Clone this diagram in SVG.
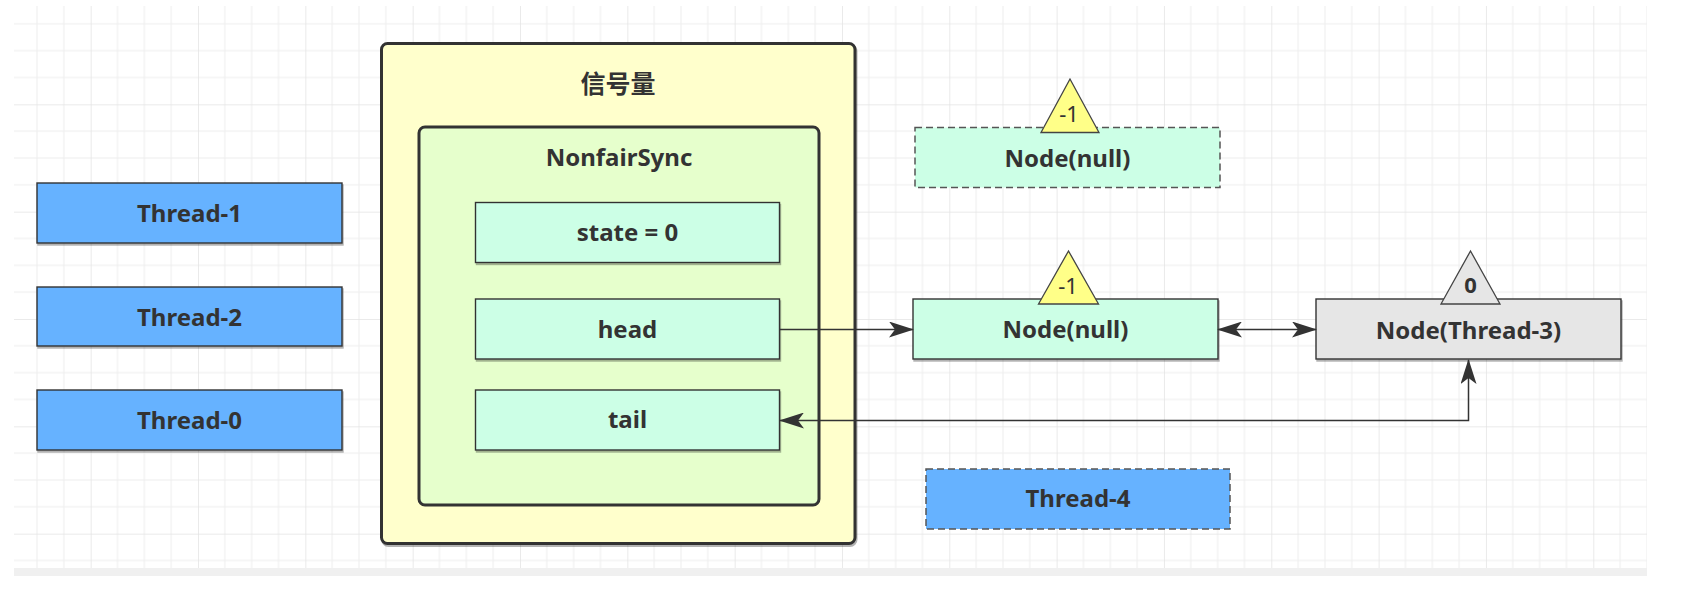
<svg xmlns="http://www.w3.org/2000/svg" width="1689" height="591" viewBox="0 0 1689 591">
  <defs>
    <pattern id="grid" patternUnits="userSpaceOnUse" x="90.67" y="104.33" width="107.33" height="107.33">
      <rect x="0" y="0" width="107.33" height="107.33" fill="#ffffff"/>
      <rect x="26.33" y="0" width="1" height="107.33" fill="#eeeeee"/>
      <rect x="53.17" y="0" width="1" height="107.33" fill="#eeeeee"/>
      <rect x="80" y="0" width="1" height="107.33" fill="#eeeeee"/>
      <rect x="0" y="26.33" width="107.33" height="1" fill="#eeeeee"/>
      <rect x="0" y="53.17" width="107.33" height="1" fill="#eeeeee"/>
      <rect x="0" y="80" width="107.33" height="1" fill="#eeeeee"/>
      <rect x="-0.5" y="0" width="1.2" height="107.33" fill="#e2e2e2"/>
      <rect x="0" y="-0.5" width="107.33" height="1.2" fill="#e2e2e2"/>
    </pattern>
    <filter id="sh" x="-5%" y="-5%" width="110%" height="120%">
      <feDropShadow dx="1" dy="2" stdDeviation="0.6" flood-color="#000" flood-opacity="0.3"/>
    </filter>
    <marker id="arr" viewBox="0 0 25 16" refX="24" refY="8" markerWidth="25" markerHeight="16" orient="auto-start-reverse" markerUnits="userSpaceOnUse">
      <path d="M0,0 L25,8 L0,16 L6,8 Z" fill="#333333"/>
    </marker>
    <style>
      .lbl { font-family: "Noto Sans", "Liberation Sans", Arial, sans-serif; font-weight: bold; font-size: 24px; fill: #333333; text-anchor: middle; }
      .cjk { font-family: "Noto Sans CJK SC", "Noto Sans", sans-serif; font-weight: bold; font-size: 25px; fill: #333333; text-anchor: middle; }
      .tri { font-family: "Noto Sans", "Liberation Sans", Arial, sans-serif; font-size: 22px; fill: #333333; text-anchor: middle; }
      .thread { fill: #66B2FF; stroke: #333333; stroke-width: 1.4; }
      .field { fill: #CCFFE6; stroke: #333333; stroke-width: 1.4; }
      .gray { fill: #E6E6E6; stroke: #333333; stroke-width: 1.4; }
      .dash { stroke: #555555; stroke-width: 1.5; stroke-dasharray: 7 4; }
      .triy { fill: #FFFF88; stroke: #444444; stroke-width: 1.3; }
      .trig { fill: #E6E6E6; stroke: #444444; stroke-width: 1.3; }
      .conn { fill: none; stroke: #333333; stroke-width: 1.5; }
    </style>
  </defs>

  <rect x="0" y="0" width="1689" height="591" fill="#ffffff"/>
  <rect x="14" y="6" width="1633" height="562" fill="url(#grid)"/>
  <rect x="14" y="568" width="1633" height="8" fill="#f0f0f0"/>

  <g id="thread-1">
    <rect class="thread" x="37" y="183" width="305" height="60" filter="url(#sh)"/>
    <text class="lbl" x="189.5" y="222">Thread-1</text>
  </g>
  <g id="thread-2">
    <rect class="thread" x="37" y="287" width="305" height="59" filter="url(#sh)"/>
    <text class="lbl" x="189.5" y="325.5">Thread-2</text>
  </g>
  <g id="thread-0">
    <rect class="thread" x="37" y="390" width="305" height="60" filter="url(#sh)"/>
    <text class="lbl" x="189.5" y="428.5">Thread-0</text>
  </g>

  <g id="semaphore">
    <rect x="381.5" y="43.5" width="473.5" height="500" rx="6" ry="6" fill="#FFFFCC" stroke="#333333" stroke-width="3" filter="url(#sh)"/>
    <text class="cjk" x="618" y="93">信号量</text>
  </g>
  <g id="nonfairsync">
    <rect x="419" y="127" width="400" height="378" rx="6" ry="6" fill="#E6FFCC" stroke="#333333" stroke-width="3"/>
    <text class="lbl" x="619" y="166">NonfairSync</text>
  </g>
  <g id="state">
    <rect class="field" x="475.5" y="202.5" width="304" height="60" filter="url(#sh)"/>
    <text class="lbl" x="627.5" y="240.5">state = 0</text>
  </g>
  <g id="head">
    <rect class="field" x="475.5" y="299" width="304" height="60" filter="url(#sh)"/>
    <text class="lbl" x="627.5" y="338">head</text>
  </g>
  <g id="tail">
    <rect class="field" x="475.5" y="390" width="304" height="60" filter="url(#sh)"/>
    <text class="lbl" x="627.5" y="428">tail</text>
  </g>

  <g id="node-null-dashed">
    <rect class="field dash" x="915" y="127.5" width="305" height="60"/>
    <polygon class="triy" points="1070,79 1041,132.5 1099,132.5"/>
    <text class="tri" x="1069" y="122">-1</text>
    <text class="lbl" x="1067.5" y="166.5">Node(null)</text>
  </g>

  <g id="node-null">
    <rect class="field" x="913" y="299" width="305" height="60" filter="url(#sh)"/>
    <polygon class="triy" points="1068.5,251 1038.5,304 1098.5,304"/>
    <text class="tri" x="1068" y="293.5">-1</text>
    <text class="lbl" x="1065.5" y="338">Node(null)</text>
  </g>

  <g id="node-thread-3">
    <rect class="gray" x="1316" y="299" width="305" height="60" filter="url(#sh)"/>
    <polygon class="trig" points="1470.5,251 1441,304 1500,304"/>
    <text class="tri" x="1470.5" y="293" font-weight="bold">0</text>
    <text class="lbl" x="1468.5" y="338.5">Node(Thread-3)</text>
  </g>

  <g id="thread-4">
    <rect class="thread dash" x="926" y="469" width="304" height="60"/>
    <text class="lbl" x="1078" y="507">Thread-4</text>
  </g>

  <g id="connectors">
    <path class="conn" d="M780,329.5 L913,329.5" marker-end="url(#arr)"/>
    <path class="conn" d="M1218,329.5 L1316,329.5" marker-start="url(#arr)" marker-end="url(#arr)"/>
    <path class="conn" d="M780,420.5 L1468.5,420.5 L1468.5,360" marker-start="url(#arr)" marker-end="url(#arr)"/>
  </g>
</svg>
